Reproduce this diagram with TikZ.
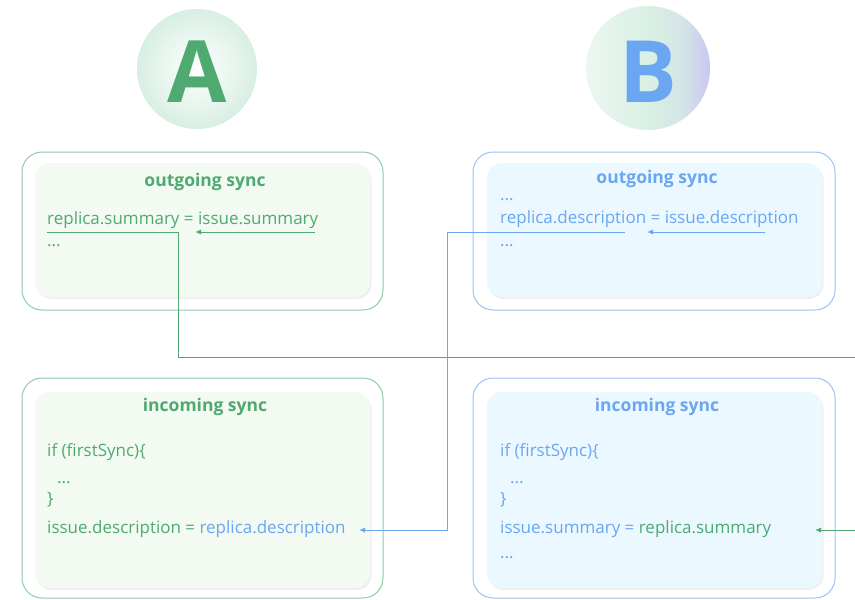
\documentclass[tikz,border=0pt]{standalone}
\usepackage{fontspec}
\setmainfont{Open Sans}
\usetikzlibrary{arrows.meta}
\usetikzlibrary{shadows}
\usetikzlibrary{positioning}

\definecolor{grn}{HTML}{4FAA72}
\definecolor{grnline}{HTML}{8ACFA3}
\definecolor{grnfill}{HTML}{F2FAF1}
\definecolor{blu}{HTML}{6AA6F2}
\definecolor{bluline}{HTML}{9EC1F6}
\definecolor{blufill}{HTML}{EBF8FF}
\definecolor{mint}{HTML}{D8EFE3}
\definecolor{lav}{HTML}{C9C6F1}

% mint on the left, a touch of lavender on the right
\pgfdeclarehorizontalshading{sideB}{100bp}{color(0bp)=(mint!50!white); color(25bp)=(mint!50!white);
  color(52bp)=(mint); color(64bp)=(mint!75!lav); color(75bp)=(lav); color(100bp)=(lav)}

\begin{document}
\begin{tikzpicture}[x=1pt,y=-1pt,
    outer/.style={rounded corners=20pt,line width=1pt},
    inner/.style={rounded corners=15pt,drop shadow={opacity=0.12,shadow xshift=1.5pt,shadow yshift=-2pt}},
    title/.style={font=\fontsize{17.5}{20}\selectfont\bfseries,anchor=base,inner sep=0pt},
    code/.style={font=\fontsize{17}{20}\selectfont,anchor=base west,inner sep=0pt},
    link/.style={line width=1pt},
    tip/.style={-{Latex[length=6pt,width=5pt]}},
    ]
  \useasboundingbox (0,0) rectangle (855,600);

  % the two sides
  \shade[inner color=white,outer color=mint] (197,69) circle (60);
  \node[text=grn,font=\fontsize{86}{86}\selectfont\bfseries] (sideA) at (197,72) {A};
  \shade[shading=sideB] (648,68) circle (62);
  \node[text=blu,font=\fontsize{86}{86}\selectfont\bfseries] (sideB) at (648,72) {B};

  % A: outgoing sync
  \draw[grnline,outer,fill=white] (22,152) rectangle (383,310);
  \fill[grnfill,inner] (35,163) rectangle (370,297);
  \node[title,text=grn] (aOutTitle) at (205,186) {outgoing sync};
  \node[code,text=grn] (aOutCode) at (47,224) {replica.summary = issue.summary};
  \node[code,text=grn] (aOutDots) at (47,246) {...};

  % B: outgoing sync
  \draw[bluline,outer,fill=white] (473,152) rectangle (835,310);
  \fill[blufill,inner] (487,163) rectangle (822,297);
  \node[title,text=blu] (bOutTitle) at (657,183) {outgoing sync};
  \node[code,text=blu] (bOutDotsA) at (500,200) {...};
  \node[code,text=blu] (bOutCode) at (500,223) {replica.description = issue.description};
  \node[code,text=blu] (bOutDotsB) at (500,246) {...};

  % A: incoming sync
  \draw[grnline,outer,fill=white] (22,378) rectangle (383,598);
  \fill[grnfill,inner] (35,392) rectangle (370,588);
  \node[title,text=grn] (aInTitle) at (205,411) {incoming sync};
  \node[code,text=grn] (aInIf) at (47,456) {if (firstSync)\{};
  \node[code,text=grn] (aInDots) at (57,483) {...};
  \node[code,text=grn] (aInEnd) at (47,504) {\}};
  \node[code,text=grn] (aInCode) at (47,533) {issue.description = \textcolor{blu}{replica.description}};

  % B: incoming sync
  \draw[bluline,outer,fill=white] (473,378) rectangle (835,598);
  \fill[blufill,inner] (487,392) rectangle (822,588);
  \node[title,text=blu] (bInTitle) at (657,411) {incoming sync};
  \node[code,text=blu] (bInIf) at (500,456) {if (firstSync)\{};
  \node[code,text=blu] (bInDots) at (510,483) {...};
  \node[code,text=blu] (bInEnd) at (500,504) {\}};
  \node[code,text=blu] (bInCode) at (500,533) {issue.summary = \textcolor{grn}{replica.summary}};
  \node[code,text=blu] (bInDotsB) at (500,558) {...};

  % turning points of the links
  \coordinate (sumStart) at (47,232);
  \coordinate (sumTurn) at (178,232);
  \coordinate (sumDown) at (178,357);
  \coordinate (sumEdge) at (855,357);
  \coordinate (sumIn) at (855,530);
  \coordinate (sumEnd) at (815,530);
  \coordinate (aIssueFrom) at (315,232);
  \coordinate (aIssueTo) at (195,232);

  \coordinate (descStart) at (625,232);
  \coordinate (descTurn) at (447,232);
  \coordinate (descDown) at (447,530);
  \coordinate (descEnd) at (359,530);
  \coordinate (bIssueFrom) at (765,232);
  \coordinate (bIssueTo) at (647,232);

  % summary: A -> B
  \draw[grn,link] (sumStart) -- (sumTurn) -- (sumDown) -- (sumEdge);
  \draw[grn,link,tip] (sumIn) -- (sumEnd);
  \draw[grn,link,tip] (aIssueFrom) -- (aIssueTo);

  % description: B -> A
  \draw[blu,link,tip] (descStart) -- (descTurn) -- (descDown) -- (descEnd);
  \draw[blu,link,tip] (bIssueFrom) -- (bIssueTo);
\end{tikzpicture}
\end{document}
